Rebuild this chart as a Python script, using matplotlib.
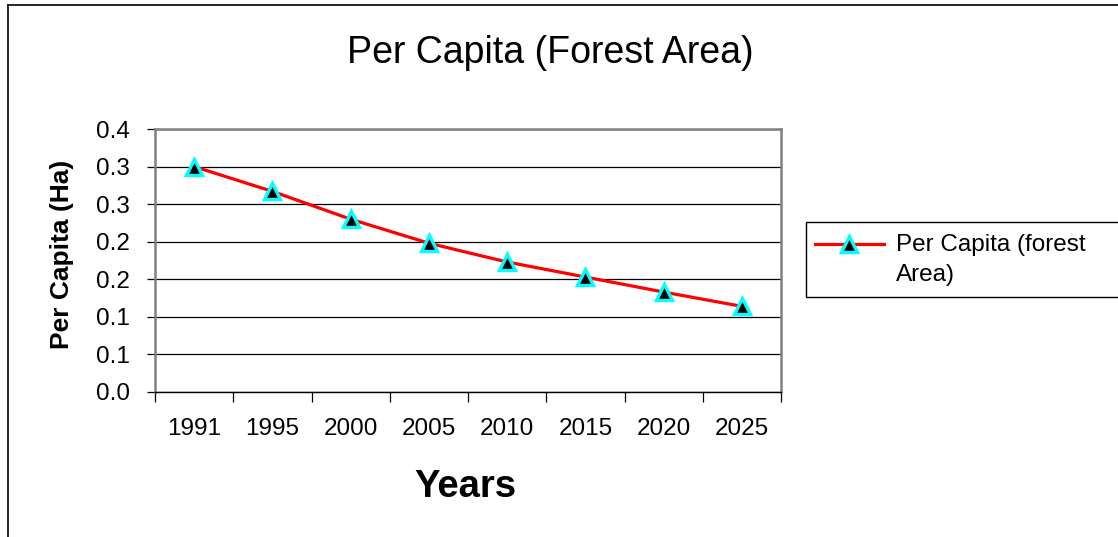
import matplotlib
matplotlib.use("Agg")
import matplotlib.pyplot as plt
from matplotlib.lines import Line2D
from matplotlib.patches import Rectangle

plt.rcParams['font.family'] = ['Liberation Sans', 'DejaVu Sans']

years = ["1991", "1995", "2000", "2005", "2010", "2015", "2020", "2025"]
per_capita = [0.300, 0.267, 0.230, 0.198, 0.173, 0.153, 0.133, 0.114]
ytick_vals = [0.0, 0.05, 0.10, 0.15, 0.20, 0.25, 0.30, 0.35]
ytick_labels = ["0.0", "0.1", "0.1", "0.2", "0.2", "0.3", "0.3", "0.4"]
series_label = "Per Capita (forest\nArea)"
title = "Per Capita (Forest Area)"

W, H = 1118, 537
fig = plt.figure(figsize=(W / 100, H / 100), dpi=100)

def fx(px):
    return px / W

def fy(py):
    return 1 - py / H

# outer chart border (cropped at right/bottom)
fig.add_artist(Line2D([fx(8), 1.0], [fy(5), fy(5)], color='black', lw=1.2, transform=fig.transFigure))
fig.add_artist(Line2D([fx(8), fx(8)], [fy(5), 0.0], color='black', lw=1.2, transform=fig.transFigure))

ax = fig.add_axes([fx(155), fy(392), fx(781) - fx(155), fy(129) - fy(392)])
x = list(range(len(years)))
ax.plot(x, per_capita, color='red', lw=2.3, marker='^', markersize=12,
        markerfacecolor='black', markeredgecolor='#00FFFF', markeredgewidth=2.4,
        zorder=3, clip_on=False)

ax.set_xlim(-0.5, len(years) - 0.5)
ax.set_ylim(0, 0.35)
ax.set_yticks(ytick_vals)
ax.set_yticklabels(ytick_labels)
ax.yaxis.grid(True, color='black', lw=0.9)
ax.set_axisbelow(True)

ax.set_xticks(x)
ax.set_xticklabels(years)
ax.set_xticks([i - 0.5 for i in range(len(years) + 1)], minor=True)
ax.tick_params(axis='x', which='major', length=0, pad=19, labelsize=17.5)
ax.tick_params(axis='x', which='minor', length=7, width=0.9, direction='out', color='black')
ax.tick_params(axis='y', length=6, width=0.9, direction='out', labelsize=17.5, pad=12)

for side in ['left', 'top', 'right']:
    ax.spines[side].set_color('#808080')
    ax.spines[side].set_linewidth(1.8)
ax.spines['bottom'].set_color('black')
ax.spines['bottom'].set_linewidth(1.0)

fig.text(fx(550), fy(53), title, ha='center', va='center', fontsize=27)
fig.text(fx(465), fy(487), "Years", ha='center', va='center', fontsize=27.5, fontweight='bold')
fig.text(fx(62), fy(254), "Per Capita (Ha)", ha='center', va='center', rotation=90,
         fontsize=19, fontweight='bold')

# legend
fig.add_artist(Rectangle((fx(806), fy(297)), fx(1125) - fx(806), fy(222) - fy(297),
                         transform=fig.transFigure, facecolor='white', edgecolor='black', lw=1.0))
fig.add_artist(Line2D([fx(815), fx(884)], [fy(244), fy(244)], color='red', lw=2.3,
                      transform=fig.transFigure))
fig.add_artist(Line2D([fx(849)], [fy(244)], marker='^', markersize=12, markerfacecolor='black',
                      markeredgecolor='#00FFFF', markeredgewidth=2.4, transform=fig.transFigure))
fig.text(fx(896), fy(260), series_label, ha='left', va='center', fontsize=17.5, linespacing=1.42)

fig.savefig("out.png", dpi=100)
